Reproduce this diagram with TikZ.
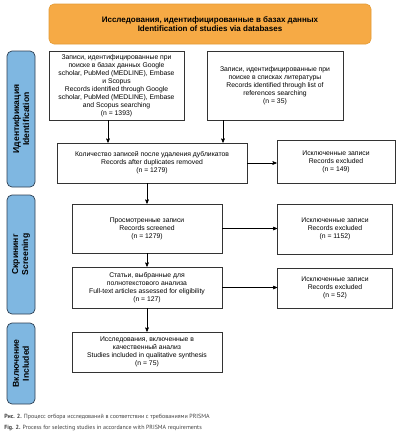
\documentclass[tikz,border=0pt]{standalone}
\usepackage{fontspec}
\setmainfont{Liberation Sans}
\newfontfamily\capfont{PT Sans}
\usepackage{tikz}
\usetikzlibrary{arrows, shapes, positioning, calc}
\definecolor{prorange}{HTML}{F6AA45}
\definecolor{prorangeline}{HTML}{E39B35}
\definecolor{prblue}{HTML}{7FB7E1}
\definecolor{prblueline}{HTML}{2E3F52}
\tikzset{
   mybox/.style={draw=black!80, line width=.6pt, fill=white, align=center, inner sep=2pt,
      font=\fontsize{6.8}{8}\selectfont},
   mytitle/.style={draw=prorangeline, fill=prorange, rounded corners=5pt, align=center,
      minimum width=322pt, minimum height=40pt, font=\fontsize{8}{9.6}\selectfont\bfseries},
   mystage/.style={draw=prblueline, line width=.7pt, fill=prblue, rounded corners=5pt,
      minimum width=28pt, align=center},
   mystagetext/.style={rotate=90, align=center, font=\fontsize{8.6}{10}\selectfont\bfseries},
   mycap/.style={anchor=base west, inner sep=0pt, text=black!75, font=\capfont\fontsize{6}{6.5}\selectfont}
}
\begin{document}
\begin{tikzpicture}[x=1pt, y=-1pt, ->, >=stealth', line width=.6pt]
      \useasboundingbox (0,0) rectangle (400,434);
      % title and stages
      \node[mytitle] (title) at (210,24) {Исследования, идентифицированные в базах данных\\Identification of studies via databases};
      \node[mystage, minimum height=136pt] (stident) at (21,119) {};
      \node[mystagetext] (stidenttxt) at (stident.center) {Идентификация\\Identification};
      \node[mystage, minimum height=119pt] (stscreen) at (21,254.5) {};
      \node[mystagetext] (stscreentxt) at (stscreen.center) {Скрининг\\Screening};
      \node[mystage, minimum height=81pt] (stincl) at (21,363.5) {};
      \node[mystagetext] (stincltxt) at (stincl.center) {Включение\\Included};
      % records
      \node[mybox, minimum width=135pt, minimum height=69pt] (idbase) at (116.5,85.5) {Записи, идентифицированные при\\поиске в базах данных Google\\scholar, PubMed (MEDLINE), Embase\\и Scopus\\Records identified through Google\\scholar, PubMed (MEDLINE), Embase\\and Scopus searching\\(n = 1393)};
      \node[mybox, minimum width=136pt, minimum height=69pt] (idref) at (275,85.5) {Записи, идентифицированные при\\поиске в списках литературы\\Records identified through list of\\references searching\\(n = 35)};
      \node[mybox, minimum width=190pt, minimum height=40pt] (dedup) at (152,163) {Количество записей после удаления дубликатов\\Records after duplicates removed\\(n = 1279)};
      \node[mybox, minimum width=118pt, minimum height=43pt] (exdup) at (336,161.5) {Исключенные записи\\Records excluded\\(n = 149)};
      \node[mybox, minimum width=150pt, minimum height=49pt] (screen) at (147,228.5) {Просмотренные записи\\Records screened\\(n = 1279)};
      \node[mybox, minimum width=115pt, minimum height=50pt] (exscreen) at (335,229) {Исключенные записи\\Records excluded\\(n = 1152)};
      \node[mybox, minimum width=150pt, minimum height=41pt] (fulltext) at (147,287.5) {Статьи, выбранные для\\полнотекстового анализа\\Full-text articles assessed for eligibility\\(n = 127)};
      \node[mybox, minimum width=115pt, minimum height=40pt] (exfull) at (335,288) {Исключенные записи\\Records excluded\\(n = 52)};
      \node[mybox, minimum width=150pt, minimum height=40pt] (incl) at (147,352) {Исследования, включенные в\\качественный анализ\\Studies included in qualitative synthesis\\(n = 75)};
      % arrows
      \draw ([xshift=-8.5pt]idbase.south) -- ([xshift=-8.5pt]idbase.south |- dedup.north);
      \draw ([xshift=-52pt]idref.south) -- ([xshift=-52pt]idref.south |- dedup.north);
      \draw (dedup.east) -- (dedup.east -| exdup.west);
      \draw (dedup.south -| screen.north) -- (screen.north);
      \draw (screen.east) -- (screen.east -| exscreen.west);
      \draw (screen.south) -- (fulltext.north);
      \draw (fulltext.east) -- (fulltext.east -| exfull.west);
      \draw (fulltext.south) -- (incl.north);
      % caption
      \node[mycap] (capru) at (4,418) {\textbf{Рис. 2.} Процесс отбора исследований в соответствии с требованиями PRISMA};
      \node[mycap] (capen) at (4,429) {\textbf{Fig. 2.} Process for selecting studies in accordance with PRISMA requirements};
\end{tikzpicture}
\end{document}
